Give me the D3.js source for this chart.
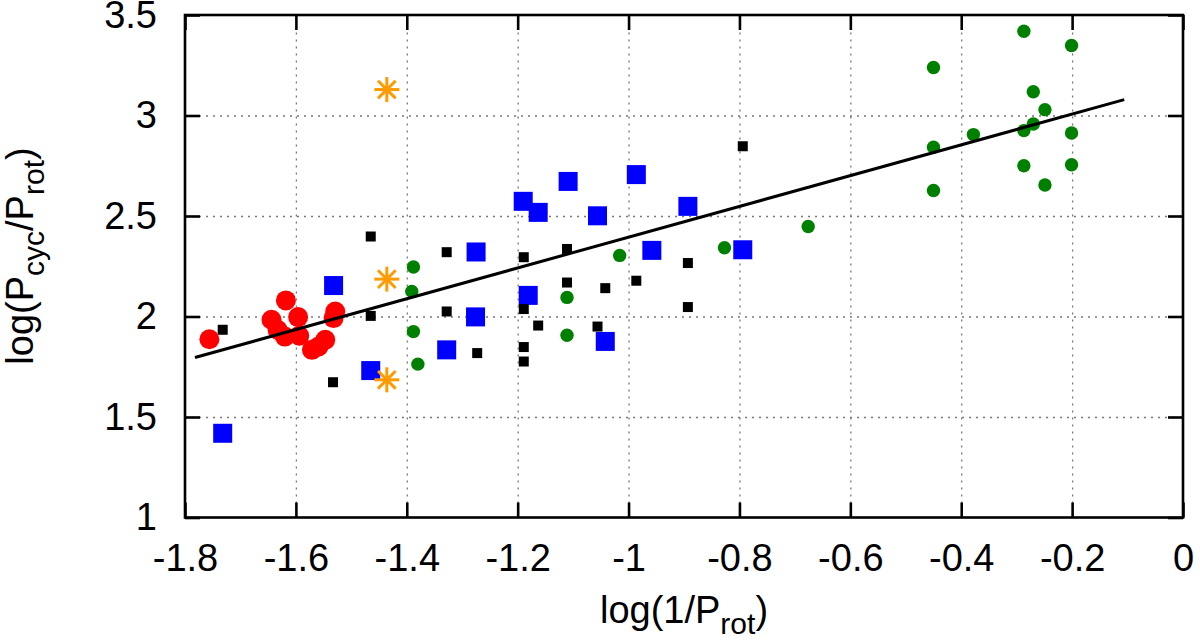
<!DOCTYPE html>
<html>
<head>
<meta charset="utf-8">
<script src="https://cdn.jsdelivr.net/npm/d3@7"></script>
<style>
  body { margin: 0; background: #fff; }
  svg text { font-family: "Liberation Sans", Arial, Helvetica, sans-serif; fill: #000; }
</style>
</head>
<body>
<script>
// data
var xTicks = [-1.8, -1.6, -1.4, -1.2, -1, -0.8, -0.6, -0.4, -0.2, 0];
var xTickLabels = ["-1.8", "-1.6", "-1.4", "-1.2", "-1", "-0.8", "-0.6", "-0.4", "-0.2", "0"];
var yTicks = [1, 1.5, 2, 2.5, 3, 3.5];
var yTickLabels = ["1", "1.5", "2", "2.5", "3", "3.5"];

// small black squares
var blackX = [-1.732, -1.533, -1.465, -1.465, -1.328, -1.328, -1.273, -1.189, -1.189, -1.189,
              -1.189, -1.163, -1.111, -1.111, -1.042, -0.986, -1.056, -0.893, -0.893, -0.794];
var blackY = [1.934, 1.673, 2.003, 2.398, 2.320, 2.025, 1.818, 2.295, 2.037, 1.848,
              1.776, 1.955, 2.336, 2.169, 2.141, 2.178, 1.950, 2.266, 2.047, 2.847];

// big blue squares
var blueX = [-1.732, -1.532, -1.465, -1.328, -1.275, -1.276, -1.190, -1.163,
             -1.181, -1.109, -1.056, -0.986, -1.042, -0.958, -0.893, -0.794];
var blueY = [1.419, 2.154, 1.731, 1.834, 2.321, 1.998, 2.573, 2.518,
             2.105, 2.672, 2.501, 2.706, 1.876, 2.329, 2.548, 2.332];

// green circles
var greenX = [-1.388, -1.391, -1.388, -1.380, -1.111, -1.111, -1.016, -0.827, -0.676,
              -0.450, -0.450, -0.450, -0.378, -0.287, -0.287, -0.287, -0.270, -0.270,
              -0.249, -0.249, -0.201, -0.201, -0.201];
var greenY = [2.246, 2.125, 1.925, 1.763, 2.095, 1.907, 2.304, 2.342, 2.448,
              3.239, 2.842, 2.627, 2.905, 3.419, 2.925, 2.750, 3.118, 2.958,
              3.029, 2.654, 3.348, 2.913, 2.755];

// red circles
var redX = [-1.756, -1.618, -1.644, -1.633, -1.620, -1.596, -1.594, -1.571, -1.559, -1.547, -1.529, -1.532];
var redY = [1.887, 2.080, 1.984, 1.934, 1.900, 1.997, 1.904, 1.834, 1.851, 1.884, 2.025, 1.992];

// orange stars
var starX = [-1.436, -1.436, -1.436];
var starY = [3.129, 2.186, 1.685];

// fitted line end points
var fitX = [-1.782, -0.106];
var fitY = [1.796, 3.079];

var W = 1200, H = 640;
var margin = {top: 15, right: 17, bottom: 122.5, left: 185};
var width = W - margin.left - margin.right,
    height = H - margin.top - margin.bottom;

var svg = d3.select("body").append("svg")
    .attr("width", W)
    .attr("height", H);

var g = svg.append("g")
    .attr("transform", "translate(" + margin.left + "," + margin.top + ")");

var x = d3.scaleLinear().domain([-1.8, 0]).range([0, width]);
var y = d3.scaleLinear().domain([1, 3.5]).range([height, 0]);

// grid
var gridX = xTicks.slice(1, -1), gridY = yTicks.slice(1, -1);
g.append("g")
    .attr("class", "grid")
    .attr("transform", "translate(0," + height + ")")
    .call(d3.axisBottom(x).tickValues(gridX).tickSize(-height).tickFormat(""))
    .call(function(s) { s.select(".domain").remove(); });
g.append("g")
    .attr("class", "grid")
    .call(d3.axisLeft(y).tickValues(gridY).tickSize(-width).tickFormat(""))
    .call(function(s) { s.select(".domain").remove(); });
g.selectAll(".grid line")
    .attr("stroke", "#777")
    .attr("stroke-width", 1.3)
    .attr("stroke-dasharray", "2,5");

// points
g.selectAll(".blue").data(d3.range(blueX.length)).enter().append("rect")
    .attr("x", function(i) { return x(blueX[i]) - 9.5; })
    .attr("y", function(i) { return y(blueY[i]) - 9.5; })
    .attr("width", 19).attr("height", 19)
    .attr("fill", "#0000ff");

g.selectAll(".black").data(d3.range(blackX.length)).enter().append("rect")
    .attr("x", function(i) { return x(blackX[i]) - 5; })
    .attr("y", function(i) { return y(blackY[i]) - 5; })
    .attr("width", 10).attr("height", 10)
    .attr("fill", "#000");

g.selectAll(".green").data(d3.range(greenX.length)).enter().append("circle")
    .attr("cx", function(i) { return x(greenX[i]); })
    .attr("cy", function(i) { return y(greenY[i]); })
    .attr("r", 6.7)
    .attr("fill", "#008000");

g.selectAll(".red").data(d3.range(redX.length)).enter().append("circle")
    .attr("cx", function(i) { return x(redX[i]); })
    .attr("cy", function(i) { return y(redY[i]); })
    .attr("r", 10)
    .attr("fill", "#ff0000");

var star = g.selectAll(".star").data(d3.range(starX.length)).enter().append("g")
    .attr("transform", function(i) { return "translate(" + x(starX[i]) + "," + y(starY[i]) + ")"; });
[0, 45, 90, 135].forEach(function(a) {
    var r = 12.5, t = a * Math.PI / 180;
    star.append("line")
        .attr("x1", -r * Math.cos(t)).attr("y1", -r * Math.sin(t))
        .attr("x2", r * Math.cos(t)).attr("y2", r * Math.sin(t))
        .attr("stroke", "#ff9a00")
        .attr("stroke-width", 3);
});

// fit line
var line = d3.line()
    .x(function(i) { return x(fitX[i]); })
    .y(function(i) { return y(fitY[i]); });
g.append("path")
    .datum(d3.range(fitX.length))
    .attr("d", line)
    .attr("fill", "none")
    .attr("stroke", "#000")
    .attr("stroke-width", 3);

// axes, ticks pointing inward on all four sides
var axB = g.append("g")
    .attr("transform", "translate(0," + height + ")")
    .call(d3.axisBottom(x).tickValues(xTicks).tickSize(-15).tickPadding(27)
        .tickFormat(function(d, i) { return xTickLabels[i]; }));
var axL = g.append("g")
    .call(d3.axisLeft(y).tickValues(yTicks).tickSize(-15).tickPadding(28)
        .tickFormat(function(d, i) { return yTickLabels[i]; }));
var axT = g.append("g")
    .call(d3.axisTop(x).tickValues(xTicks).tickSize(-15).tickFormat(""));
var axR = g.append("g")
    .attr("transform", "translate(" + width + ",0)")
    .call(d3.axisRight(y).tickValues(yTicks).tickSize(-15).tickFormat(""));

[axB, axL, axT, axR].forEach(function(a) {
    a.select(".domain").remove();
    a.selectAll("line").attr("stroke", "#000").attr("stroke-width", 2.6);
    a.selectAll("text")
        .attr("font-family", "'Liberation Sans', Arial, Helvetica, sans-serif")
        .attr("font-size", 38)
        .attr("fill", "#000");
});

g.append("rect")
    .attr("width", width).attr("height", height)
    .attr("fill", "none")
    .attr("stroke", "#000")
    .attr("stroke-width", 2.6);

// axis titles
var xl = svg.append("text")
    .attr("x", margin.left + width / 2)
    .attr("y", 623)
    .attr("text-anchor", "middle")
    .attr("font-size", 38);
xl.append("tspan").text("log(1/P");
xl.append("tspan").attr("dy", 11).attr("font-size", 30).text("rot");
xl.append("tspan").attr("dy", -11).text(")");

var yl = svg.append("text")
    .attr("transform", "translate(33,256) rotate(-90)")
    .attr("text-anchor", "middle")
    .attr("font-size", 38);
yl.append("tspan").text("log(P");
yl.append("tspan").attr("dy", 11).attr("font-size", 30).text("cyc");
yl.append("tspan").attr("dy", -11).text("/P");
yl.append("tspan").attr("dy", 11).attr("font-size", 30).text("rot");
yl.append("tspan").attr("dy", -11).text(")");
</script>
</body>
</html>
